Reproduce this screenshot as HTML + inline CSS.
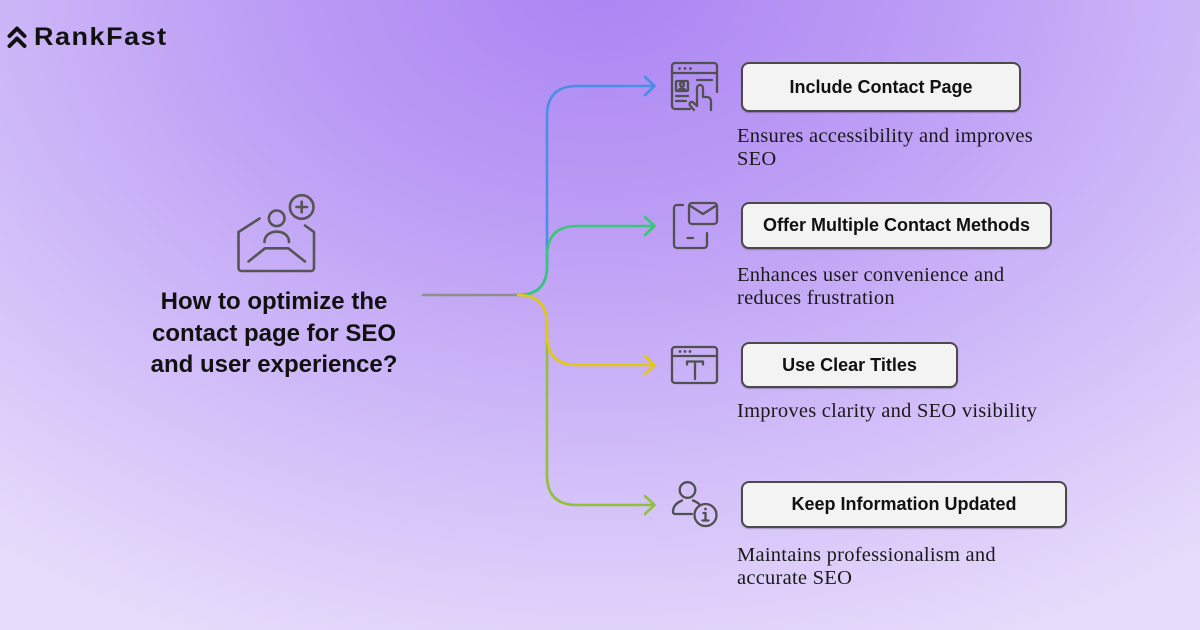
<!DOCTYPE html>
<html><head><meta charset="utf-8">
<style>
html,body{margin:0;padding:0;}
body{width:1200px;height:630px;overflow:hidden;position:relative;
background:
radial-gradient(ellipse 1000px 720px at 600px -20px, #ab84f3 0%, #bd9ef5 35%, #d3c0f9 70%, #e7dcfb 100%);
font-family:"Liberation Sans",sans-serif;}
.logo{position:absolute;left:34px;top:22px;font-size:25px;font-weight:bold;letter-spacing:1.4px;color:#111;line-height:30px;transform:scaleX(1.08);transform-origin:0 0;}
.title{position:absolute;left:124px;width:300px;top:286px;text-align:center;font-size:24px;font-weight:bold;line-height:31.5px;color:#111;}
.box{position:absolute;left:741px;box-sizing:border-box;border:2px solid #4a4a4a;border-radius:8px;background:#f3f3f3;
display:flex;align-items:center;justify-content:center;font-size:18px;font-weight:bold;color:#111;box-shadow:0 1px 1px rgba(0,0,0,0.25);}
.desc{position:absolute;left:737px;font-family:"Liberation Serif",serif;font-size:20.5px;letter-spacing:0.25px;line-height:23px;color:#1a1a1a;}
svg{position:absolute;left:0;top:0;}
</style></head><body>
<svg width="1200" height="630" viewBox="0 0 1200 630">
  <g fill="none" stroke="#111" stroke-width="4" stroke-linecap="round" stroke-linejoin="round">
    <polyline points="9.5,36 17,28.5 24.5,36"/>
    <polyline points="9.5,46 17,38.5 24.5,46"/>
  </g>
  <g fill="none" stroke-width="2.6" stroke-linecap="round" stroke-linejoin="round">
    <path d="M423 295 H518" stroke="#8e8e8e"/>
    <path d="M518 295 Q547 295 547 266 V116 Q547 86 577 86 H654" stroke="#4a8fe3"/>
    <polyline points="645,77 654.5,86 645,95" stroke="#4a8fe3"/>
    <path d="M518 295 Q547 295 547 324 V475 Q547 505 577 505 H654" stroke="#93c03a"/>
    <polyline points="645,496 654.5,505 645,514" stroke="#93c03a"/>
    <path d="M518 295 Q547 295 547 266 V256 Q547 226 577 226 H654" stroke="#38c77a"/>
    <polyline points="645,217 654.5,226 645,235" stroke="#38c77a"/>
    <path d="M518 295 Q547 295 547 324 V335 Q547 365 577 365 H654" stroke="#e3c716"/>
    <polyline points="645,356 654.5,365 645,374" stroke="#e3c716"/>
  </g>
  <g fill="none" stroke="#555" stroke-width="2.6" stroke-linecap="round" stroke-linejoin="round">
    <path d="M259.5 218.5 L238.5 232 V268 a3 3 0 0 0 3 3 H311 a3 3 0 0 0 3 -3 V232 L305 225.5"/>
    <path d="M248.5 261.5 L265 248.3 H288.3 L305 261.5"/>
    <circle cx="276.7" cy="218.3" r="7.8"/>
    <path d="M264.5 242 C264.5 235.5 270 231.7 276.7 231.7 C283.4 231.7 289 235.5 289 242"/>
    <circle cx="301.7" cy="207" r="11.8"/>
    <path d="M296.5 207 H307 M301.7 201.7 V212.3"/>
  </g>
  <g fill="none" stroke="#505050" stroke-width="2.3" stroke-linecap="round" stroke-linejoin="round">
    <path d="M690 109 H675 a3 3 0 0 1 -3 -3 V66 a3 3 0 0 1 3 -3 H714 a3 3 0 0 1 3 3 V92"/>
    <path d="M672 73 H717"/>
    <rect x="676" y="81" width="12" height="10" rx="1"/>
    <circle cx="682" cy="84.5" r="2"/>
    <path d="M678.5 90.5 C679 88 685 88 685.5 90.5"/>
    <path d="M676 96 H688 M676 101 H686"/>
    <path d="M697 80 H712"/>
    <path d="M694 110 L690 105.5 a2.2 2.2 0 0 1 3.2 -3 L697 106 V88 a3 3 0 0 1 6 0 V97 H707 a4 4 0 0 1 4 4 V110"/>
  </g>
  <g fill="#505050">
    <circle cx="679.5" cy="68.5" r="1.4"/><circle cx="685" cy="68.5" r="1.4"/><circle cx="690.5" cy="68.5" r="1.4"/>
  </g>
  <g fill="none" stroke="#505050" stroke-width="2.3" stroke-linecap="round" stroke-linejoin="round">
    <path d="M683 205 H677 a3 3 0 0 0 -3 3 V245 a3 3 0 0 0 3 3 H704 a3 3 0 0 0 3 -3 V233"/>
    <rect x="689" y="203" width="28" height="21" rx="3"/>
    <path d="M690.5 206 L703 214 L715.5 206"/>
    <path d="M687.5 238 H693"/>
  </g>
  <g fill="none" stroke="#505050" stroke-width="2.3" stroke-linecap="round" stroke-linejoin="round">
    <rect x="672" y="347" width="45" height="36" rx="3"/>
    <path d="M672 356 H717"/>
    <path d="M687 364.5 V361.5 H703 V364.5 M695 361.5 V379"/>
  </g>
  <g fill="#505050">
    <circle cx="680" cy="351.5" r="1.4"/><circle cx="685" cy="351.5" r="1.4"/><circle cx="690" cy="351.5" r="1.4"/>
  </g>
  <g fill="none" stroke="#505050" stroke-width="2.3" stroke-linecap="round" stroke-linejoin="round">
    <circle cx="687.5" cy="490" r="7.8"/>
    <path d="M692 514 H675 a2 2 0 0 1 -2 -2 C673 506 677 502.5 682 500.5"/>
    <path d="M693 500.5 C695.5 501.5 697.5 502.5 699 504"/>
    <circle cx="705.5" cy="515" r="11"/>
    <path d="M705.5 513 V520.5 M702.5 520.5 H708.5 M703.5 513 H705.5"/>
  </g>
  <circle cx="705.5" cy="509" r="1.4" fill="#505050"/>
</svg>

<div class="logo">RankFast</div>
<div class="title">How to optimize the<br>contact page for SEO<br>and user experience?</div>

<div class="box" style="top:62px;width:280px;height:50px;">Include Contact Page</div>
<div class="desc" style="top:125px;">Ensures accessibility and improves<br>SEO</div>

<div class="box" style="top:202px;width:311px;height:47px;">Offer Multiple Contact Methods</div>
<div class="desc" style="top:264px;">Enhances user convenience and<br>reduces frustration</div>

<div class="box" style="top:342px;width:217px;height:46px;">Use Clear Titles</div>
<div class="desc" style="top:399.5px;">Improves clarity and SEO visibility</div>

<div class="box" style="top:481px;width:326px;height:47px;">Keep Information Updated</div>
<div class="desc" style="top:543.5px;">Maintains professionalism and<br>accurate SEO</div>
</body></html>
